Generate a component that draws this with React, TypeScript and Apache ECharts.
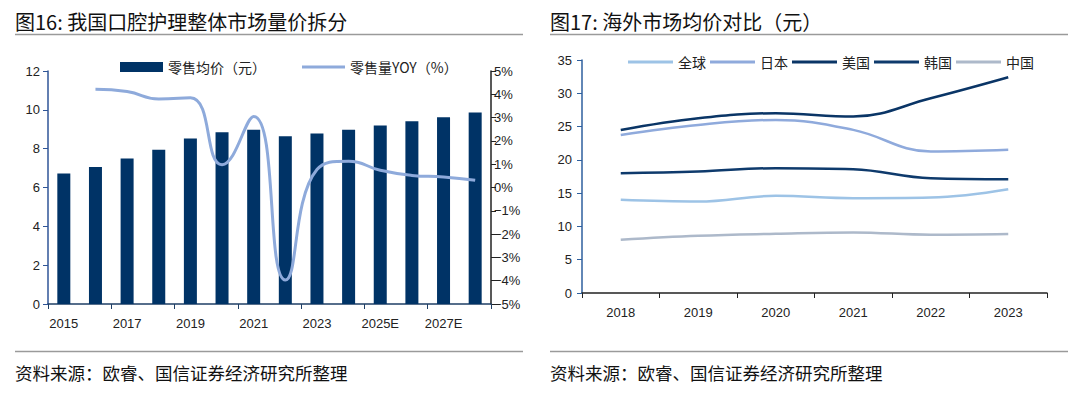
import React, { useEffect, useRef } from "react";
import * as echarts from "echarts";

const leftCategories = ["2015", "2016", "2017", "2018", "2019", "2020", "2021", "2022", "2023", "2024", "2025E", "2026E", "2027E", "2028E"];
const retailPrice = [6.72, 7.06, 7.49, 7.95, 8.52, 8.85, 8.98, 8.64, 8.78, 8.98, 9.19, 9.41, 9.62, 9.86];
const volumeYoy = [null, 4.22, 4.12, 3.8, 3.85, 0.98, 3.05, -3.97, 0.77, 1.13, 0.74, 0.52, 0.45, 0.31];
const leftYTicks = [0, 12, 2];
const rightYTicks = [-5, 5, 1];

const rightCategories = ["2018", "2019", "2020", "2021", "2022", "2023"];
const globalPrice = [14.0, 13.75, 14.6, 14.25, 14.35, 15.6];
const japanPrice = [23.75, 25.25, 26.0, 24.5, 21.25, 21.5];
const usPrice = [24.5, 26.25, 27.0, 26.5, 29.25, 32.4];
const koreaPrice = [18.0, 18.25, 18.75, 18.6, 17.25, 17.1];
const chinaPrice = [8.0, 8.6, 8.9, 9.1, 8.75, 8.85];
const overseasYTicks = [0, 35, 5];

const FONT = "'Liberation Sans', 'Noto Sans CJK SC', sans-serif";
const CJK = "'Noto Sans CJK SC', sans-serif";

export default function App() {
  const ref = useRef<HTMLDivElement>(null);
  useEffect(() => {
    if (!ref.current) return;
    const chart = echarts.init(ref.current, null, { renderer: "svg" });
    const axisLabel = { color: "#222", fontSize: 13, fontFamily: FONT };
    const pct = (v: number) => (v < 0 ? "\u2212" + Math.abs(v) : String(v)) + "%";
    const lineSeries = (name: string, data: number[], color: string) => ({
      name, type: "line", xAxisIndex: 1, yAxisIndex: 2, data, smooth: 0.4, symbol: "none", showSymbol: false,
      lineStyle: { color, width: 2.5 }, itemStyle: { color },
    });
    const legendText = { fontSize: 14, color: "#222", fontFamily: CJK };
    chart.setOption({
      animation: false,
      textStyle: { fontFamily: FONT },
      graphic: [
        { type: "text", left: 15, top: 11, style: { text: "图16: 我国口腔护理整体市场量价拆分", font: `20px ${CJK}`, fill: "#111" } },
        { type: "text", left: 550, top: 11, style: { text: "图17: 海外市场均价对比（元）", font: `20px ${CJK}`, fill: "#111" } },
        { type: "line", shape: { x1: 15, y1: 34.5, x2: 523, y2: 34.5 }, style: { stroke: "#9a9a9a", lineWidth: 1.5 } },
        { type: "line", shape: { x1: 550, y1: 34.5, x2: 1068, y2: 34.5 }, style: { stroke: "#9a9a9a", lineWidth: 1.5 } },
        { type: "line", shape: { x1: 15, y1: 351.5, x2: 523, y2: 351.5 }, style: { stroke: "#9a9a9a", lineWidth: 1.5 } },
        { type: "line", shape: { x1: 550, y1: 351.5, x2: 1068, y2: 351.5 }, style: { stroke: "#9a9a9a", lineWidth: 1.5 } },
        { type: "text", left: 15, top: 364, style: { text: "资料来源：欧睿、国信证券经济研究所整理", font: `17.5px ${CJK}`, fill: "#111" } },
        { type: "text", left: 550, top: 364, style: { text: "资料来源：欧睿、国信证券经济研究所整理", font: `17.5px ${CJK}`, fill: "#111" } },
      ],
      legend: [
        {
          left: 115, top: 55, itemWidth: 43, itemHeight: 10, icon: "rect",
          textStyle: legendText,
          data: ["零售均价（元）"],
        },
        {
          left: 297, top: 55, itemWidth: 43, itemHeight: 3, icon: "rect",
          textStyle: legendText,
          data: ["零售量YOY（%）"],
        },
        {
          left: 623, top: 50, itemWidth: 45, itemHeight: 3, itemGap: 4, icon: "rect",
          textStyle: legendText,
          data: ["全球", "日本", "美国", "韩国", "中国"],
        },
      ],
      grid: [
        { left: 48, right: 589, top: 71, bottom: 93 },
        { left: 582, right: 33, top: 60, bottom: 104 },
      ],
      xAxis: [
        {
          type: "category", gridIndex: 0, data: leftCategories,
          axisLine: { lineStyle: { color: "#1f3f66", width: 1.5 } },
          axisTick: { show: true, length: 5, lineStyle: { color: "#1f3f66" } },
          axisLabel: { ...axisLabel, interval: 1, margin: 13 },
        },
        {
          type: "category", gridIndex: 1, data: rightCategories,
          axisLine: { lineStyle: { color: "#222", width: 1.5 } },
          axisTick: { show: true, length: 5, lineStyle: { color: "#222" } },
          axisLabel: { ...axisLabel, margin: 13 },
        },
      ],
      yAxis: [
        {
          type: "value", gridIndex: 0, min: leftYTicks[0], max: leftYTicks[1], interval: leftYTicks[2],
          axisLine: { show: true, lineStyle: { color: "#2f5597", width: 1.5 } },
          axisTick: { show: true, length: 5, lineStyle: { color: "#2f5597" } },
          splitLine: { show: false },
          axisLabel: { ...axisLabel, margin: 8 },
        },
        {
          type: "value", gridIndex: 0, position: "right", min: rightYTicks[0], max: rightYTicks[1], interval: rightYTicks[2],
          axisLine: { show: true, lineStyle: { color: "#222", width: 1.5 } },
          axisTick: { show: true, length: 5, lineStyle: { color: "#222" } },
          splitLine: { show: false },
          axisLabel: { ...axisLabel, margin: 3, formatter: pct },
        },
        {
          type: "value", gridIndex: 1, min: overseasYTicks[0], max: overseasYTicks[1], interval: overseasYTicks[2],
          axisLine: { show: true, lineStyle: { color: "#2e5f9e", width: 1.5 } },
          axisTick: { show: true, length: 5, lineStyle: { color: "#2e5f9e" } },
          splitLine: { show: false },
          axisLabel: { ...axisLabel, margin: 10 },
        },
      ],
      series: [
        { name: "零售均价（元）", type: "bar", xAxisIndex: 0, yAxisIndex: 0, data: retailPrice, barWidth: 13, itemStyle: { color: "#003366" } },
        { name: "零售量YOY（%）", type: "line", xAxisIndex: 0, yAxisIndex: 1, data: volumeYoy, smooth: 0.5, symbol: "none", showSymbol: false, lineStyle: { color: "#8eaadb", width: 3 }, itemStyle: { color: "#8eaadb" } },
        lineSeries("全球", globalPrice, "#9dc3e6"),
        lineSeries("日本", japanPrice, "#8faadc"),
        lineSeries("美国", usPrice, "#0a3566"),
        lineSeries("韩国", koreaPrice, "#0e3a6c"),
        lineSeries("中国", chinaPrice, "#adb9ca"),
      ],
    });
    return () => chart.dispose();
  }, []);
  return <div ref={ref} style={{ position: "fixed", left: 0, top: 0, width: 1080, height: 397, background: "#fff" }} />;
}
